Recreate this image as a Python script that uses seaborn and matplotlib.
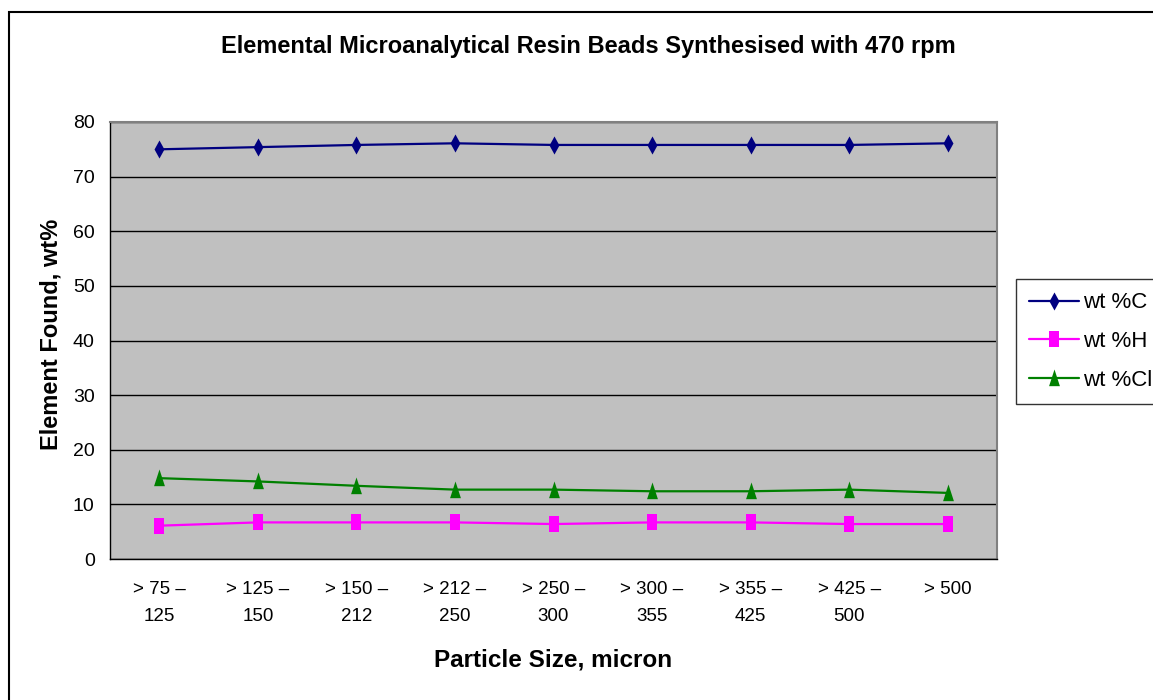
import matplotlib
matplotlib.use("Agg")
import matplotlib.pyplot as plt
import seaborn as sns
import pandas as pd
from matplotlib.patches import Rectangle
from matplotlib.ticker import FixedLocator
from matplotlib.lines import Line2D

categories = ["> 75 –\n125", "> 125 –\n150", "> 150 –\n212", "> 212 –\n250", "> 250 –\n300",
              "> 300 –\n355", "> 355 –\n425", "> 425 –\n500", "> 500"]
wt_C = [75.0, 75.4, 75.8, 76.1, 75.8, 75.8, 75.8, 75.8, 76.1]
wt_H = [6.1, 6.7, 6.7, 6.7, 6.4, 6.7, 6.7, 6.4, 6.4]
wt_Cl = [14.8, 14.2, 13.4, 12.7, 12.7, 12.4, 12.4, 12.7, 12.1]
series_names = ["wt %C", "wt %H", "wt %Cl"]
colors = ["#000080", "#FF00FF", "#008000"]

diamond = [(-0.55, 0), (0, 1), (0.55, 0), (0, -1), (-0.55, 0)]
rect = [(-0.7, -1), (0.7, -1), (0.7, 1), (-0.7, 1), (-0.7, -1)]
tri = [(-0.6, -0.85), (0, 1), (0.6, -0.85), (-0.6, -0.85)]
markers = [diamond, rect, tri]
msizes = [13, 11, 13]

sns.set_theme(style="white")
plt.rcParams['font.family'] = ['Liberation Sans', 'DejaVu Sans']
plt.rcParams['text.color'] = 'black'
plt.rcParams['xtick.color'] = 'black'
plt.rcParams['ytick.color'] = 'black'
plt.rcParams['axes.labelcolor'] = 'black'

rows = []
for name, vals in zip(series_names, [wt_C, wt_H, wt_Cl]):
    for i, v in enumerate(vals):
        rows.append({"x": i, "value": v, "series": name})
df = pd.DataFrame(rows)

fig = plt.figure(figsize=(11.53, 7.0), dpi=100)
ax = fig.add_axes([110/1153, 1 - 559/700, (997-110)/1153, (559-122)/700])

# outer border
fig.patches.append(Rectangle((9/1153, -0.05), 1.2, 1 - 12/700 + 0.05, transform=fig.transFigure,
                             fill=False, edgecolor="black", linewidth=1.5, zorder=0))

ax.set_facecolor("#C0C0C0")
for name, c, m, ms in zip(series_names, colors, markers, msizes):
    sns.lineplot(data=df[df["series"] == name], x="x", y="value", color=c,
                 marker=m, markersize=ms, linewidth=1.6, markeredgewidth=0,
                 ax=ax, legend=False, zorder=3)

ax.set_xlim(-0.5, len(categories) - 0.5)
ax.set_ylim(0, 80)
ax.set_yticks(range(0, 81, 10))
ax.set_xticks(range(len(categories)))
ax.set_xticklabels(categories, fontsize=13.5, linespacing=1.75)
ax.xaxis.set_minor_locator(FixedLocator([i - 0.5 for i in range(len(categories) + 1)]))
ax.tick_params(axis="x", which="major", length=0, pad=16)
ax.tick_params(axis="x", which="minor", length=6, width=1, color="black", direction="out")
ax.tick_params(axis="y", which="major", length=6, width=1, color="black", direction="out",
               labelsize=14, pad=5)
ax.yaxis.grid(True, color="black", linewidth=1)
ax.set_axisbelow(True)
for s in ax.spines.values():
    s.set_color("#808080")
    s.set_linewidth(1.5)
ax.spines["left"].set_color("black")
ax.spines["left"].set_linewidth(1)
ax.spines["bottom"].set_color("black")
ax.spines["bottom"].set_linewidth(1)

ax.set_xlabel("Particle Size, micron", fontsize=17.5, fontweight="bold", labelpad=17)
ax.set_ylabel("Element Found, wt%", fontsize=17, fontweight="bold")
ax.yaxis.set_label_coords(-0.054, 0.515)
fig.text(588/1153, 1 - 47/700, "Elemental Microanalytical Resin Beads Synthesised with 470 rpm",
         ha="center", va="center", fontsize=17, fontweight="bold")

handles = [Line2D([], [], color=c, marker=m, markersize=ms, linewidth=1.6, markeredgewidth=0)
           for c, m, ms in zip(colors, markers, msizes)]
leg = fig.legend(handles, series_names, loc="upper left", bbox_to_anchor=(1016/1153, 1 - 279/700),
                 fontsize=16, frameon=True, fancybox=False, edgecolor="black",
                 handlelength=2.25, handletextpad=0.15, labelspacing=0.8, borderpad=0.6,
                 borderaxespad=0)
leg.get_frame().set_linewidth(1)

fig.savefig("out.png", dpi=100, facecolor="white")
